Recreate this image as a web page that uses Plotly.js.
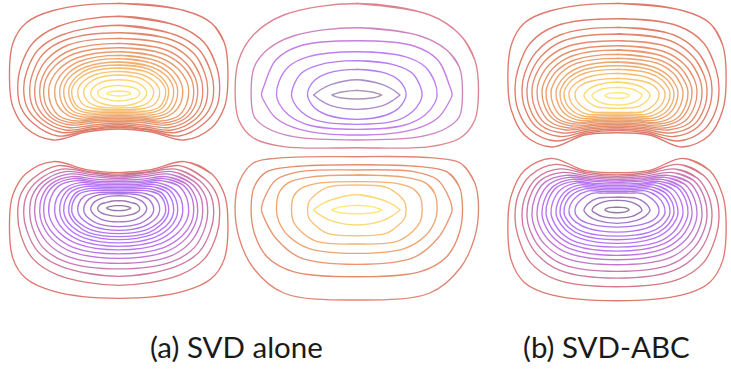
<!DOCTYPE html>
<html><head><meta charset="utf-8">
<script src="https://cdn.plot.ly/plotly-3.0.1.min.js"></script>
<style>html,body{margin:0;padding:0;background:#fff}#c{width:731px;height:387px}</style>
</head><body><div id="c"></div>
<script>
// Each contour row:
// half-width, y at widest, top y at 0/.6/.85/.97 of half-width, bottom y at .97/.85/.6/0 of half-width
var stations = [0, 0.6, 0.85, 0.97];
var captions = ["(a) SVD alone", "(b) SVD-ABC"];
var captionX = [236, 606];

var aTop = [
[109,86,3.3,10.5,23,43,107,128,140,129],
[101,88,16.3,26.5,43,67,107,123,136,127.5],
[95,88,25.3,35,50,72,106,121,132.5,126],
[89,89,32.7,40,54,74,106,120,130,124.5],
[84,89,38.3,45,59,76,106,119,127.5,123],
[79,90,43.3,50,63,78,105,118,125,121.5],
[75,90,47.7,54,66,79,105,117,123,120],
[70,90,51.7,58,69,81,104,116,121,118.5],
[64,90,55.3,61,71,82,103,113,119,117],
[59,91,58.7,64,73,83,102,112,117,115.5],
[55,91,62,67,75,84,101,110.5,115,114],
[50,91,65,69,77,85,100,109,113,112.5],
[47,91,68,72,79,86,99.5,107.5,111,111],
[41,92,71.3,75,81,87,98.5,105,108.5,109.5],
[35,92,75,78,83,88,97,102.5,106.5,108],
[28,93,79.7,82,86,90,96,100,103.5,106],
[21,93,85.3,87,89,91,95,97.5,99,101],
[12,93.5,91,91.5,92.5,93,94,94.7,95.3,96]];
var aTopDent = [132,130,129,127,125,122.5,120.5,119,117.3,115.8,114.2,112.6,111,109.3,107.7,105.5,100.6,95.9];

var aBottom = [
[109,215.6,172.6,161.6,173.6,194.6,258.6,278.6,291.1,298.3],
[101,213.6,174.1,165.6,178.6,194.6,234.6,258.6,275.1,285.3],
[95,213.6,175.6,169.1,180.6,195.6,229.6,251.6,266.6,276.3],
[89,212.6,177.1,171.6,181.6,195.6,227.6,247.6,261.6,268.9],
[84,212.6,178.6,174.1,182.6,195.6,225.6,242.6,256.6,263.3],
[79,211.6,180.1,176.6,183.6,196.6,223.6,238.6,251.6,258.3],
[75,211.6,181.6,178.6,184.6,196.6,222.6,235.6,247.6,253.9],
[70,211.6,183.1,180.6,185.6,197.6,220.6,232.6,243.6,249.9],
[64,211.6,184.6,182.6,188.6,198.6,219.6,230.6,240.6,246.3],
[59,210.6,186.1,184.6,189.6,199.6,218.6,228.6,237.6,242.9],
[55,210.6,187.6,186.6,191.1,200.6,217.6,226.6,234.6,239.6],
[50,210.6,189.1,188.6,192.6,201.6,216.6,224.6,232.6,236.6],
[47,210.6,190.6,190.6,194.1,202.1,215.6,222.6,229.6,233.6],
[41,209.6,192.1,193.1,196.6,203.1,214.6,220.6,226.6,230.3],
[35,209.6,193.6,195.1,199.1,204.6,213.6,218.6,223.6,226.6],
[28,208.6,195.6,198.1,201.6,205.6,211.6,215.6,219.6,221.9],
[21,208.6,200.6,202.6,204.1,206.6,210.6,212.6,214.6,216.3],
[12,208.1,205.6,206.3,206.9,207.6,208.6,209.1,210.1,210.6]];
var aBottomDent = [169.6,171.6,172.6,174.6,176.6,179.1,181.1,182.6,184.3,185.8,187.4,189,190.6,192.3,193.9,196.1,201,205.7];

var bTop = [
[109,86,3.3,10.5,23,45,110,135,147,132.7],
[102,88,18.7,26,43,69,110,130,141,130.5],
[95,89,27.3,35,52,73,108,127,136.5,129],
[90,89,34,41,57,76,108,125,133,127.5],
[85,90,40.7,47,61,78,107,123,130,126],
[80,91,45.7,52,65,80,106,121,128,124.5],
[75,91,50,56,68,82,105,119,126,123],
[71,92,54.3,60,71,84,105,118,124,121.5],
[66,92,58.3,63,73,85,104,116,122.5,120],
[61,92,62,67,76,86,103,114,120.5,118.5],
[57,93,65.7,70,78,87,103,112.5,118.5,117],
[53,93,69.3,73,80,88,102,110.5,116.5,115.5],
[48,93,73.3,77,83,89,101,108.5,114.5,114],
[42,94,78.3,81,85,90,100,106,112,112.5],
[33,95,82,85,89,93,98,102.5,107,108.3],
[25,95,87.3,89,92,94,97,100,103,105],
[12,95.5,92.7,93.2,94.3,95,96.2,97,97.8,98.3]];
var bTopDent = [135,133,131,129,127.3,125.5,124,122,120.5,119,117.3,115.7,114,112.3,108,104.7,98.1];

var bBottom = [
[109,219.4,172.7,158.4,170.4,195.4,260.4,282.4,294.9,300.7],
[102,217.4,174.9,164.4,175.4,195.4,236.4,262.4,279.4,286.7],
[95,216.4,176.4,168.9,178.4,197.4,232.4,253.4,270.4,278.1],
[90,216.4,177.9,172.4,180.4,197.4,229.4,248.4,264.4,271.4],
[85,215.4,179.4,175.4,182.4,198.4,227.4,244.4,258.4,264.7],
[80,214.4,180.9,177.4,184.4,199.4,225.4,240.4,253.4,259.7],
[75,214.4,182.4,179.4,186.4,200.4,223.4,237.4,249.4,255.4],
[71,213.4,183.9,181.4,187.4,200.4,221.4,234.4,245.4,251.1],
[66,213.4,185.4,182.9,189.4,201.4,220.4,232.4,242.4,247.1],
[61,213.4,186.9,184.9,191.4,202.4,219.4,229.4,238.4,243.4],
[57,212.4,188.4,186.9,192.9,202.4,218.4,227.4,235.4,239.7],
[53,212.4,189.9,188.9,194.9,203.4,217.4,225.4,232.4,236.1],
[48,212.4,191.4,190.9,196.9,204.4,216.4,222.4,228.4,232.1],
[42,211.4,192.9,193.4,199.4,205.4,215.4,220.4,224.4,227.1],
[33,210.4,197.1,198.4,202.9,207.4,212.4,216.4,220.4,223.4],
[25,210.4,200.4,202.4,205.4,208.4,211.4,213.4,216.4,218.1],
[12,209.9,207.1,207.6,208.4,209.2,210.4,211.1,212.2,212.7]];
var bBottomDent = [170.4,172.4,174.4,176.4,178.1,179.9,181.4,183.4,184.9,186.4,188.1,189.7,191.4,193.1,197.4,200.7,207.3];

var cTop = [
[121.7,90,3.5,15,35,60,120,138,146.7,147.7],
[105.7,93,27.7,36,50,67,116.7,128,136.7,140],
[95.3,95,40.7,46,60,85,101.7,118,129.3,135],
[80.3,95,51.7,56.7,66.7,81.7,103.3,115,125,129.3],
[65.3,95,60.7,65.3,73.3,86,101.7,111.7,120.7,124.3],
[49.3,95,69.3,73.3,80,88,100,108.3,115,119.3],
[43.2,95,79.7,84.7,90,94,96,100,105.7,109.3],
[25,95,90.3,92,93.7,94.7,95.3,96.7,98,99]];

var cBottom = [
[121.7,207,156.7,157.7,163,183,236.7,268,293,300],
[105.7,208,164.7,166.7,171.7,186.7,233,256.7,271.7,276.7],
[95.3,210,170,171.7,180,198.3,218.3,238.3,257.3,264.3],
[80.3,210,175,177.3,182.7,193.3,221.7,236,248.3,253.3],
[65.3,210,181.7,183.3,188.3,196.7,221.7,231.7,241.7,244],
[49.3,210,185,187.3,195,201.7,218.3,225,233.3,235.7],
[43.2,210,194.7,200,205,208.7,211.3,215,220.7,225],
[25,210,205.3,206.7,208.3,209.3,210.3,211.7,213,213.7]];

var centers = [118.7, 118.7, 356.8, 356.8, 617, 617];
var warm18 = ["#d96a5c","#da6e5c","#dc745c","#de7a5d","#e0805e","#e2865f","#e48c60","#e69261","#e89862","#eb9f62","#eea662","#f1ae62","#f4b662","#f7bf63","#f9c964","#fbd365","#fddc66","#ffe468"];
var violet18 = ["#d96a5f","#cf6a78","#c96a92","#c36aaa","#be68c0","#b968d2","#b566e0","#b266ea","#b066f2","#ae66f5","#ac66f5","#aa66f2","#a866ec","#a466e2","#9f66d2","#9868bc","#8f68a8","#8a6a98"];
var warm8 = ["#db7a66","#e0805e","#e68c60","#eb9a62","#f0a864","#f6bd66","#fbd566","#ffe668"];
var violet8 = ["#dc7585","#c878b8","#c070e0","#b870f5","#b06ff0","#a870f0","#a07fc4","#a38aaa"];

// r: a contour row; dentY: its y at .3 of half-width on the dented side (top or bottom), if any
function loop(cx, r, dentY, dentOnTop) {
  var W = r[0], yW = r[1], i;
  function top(sign) {
    var out = [];
    for (i = 1; i < 4; i++) out.push([cx + sign * W * stations[i], r[2 + i]]);
    if (dentY !== undefined && dentOnTop) out.unshift([cx + sign * W * 0.3, dentY]);
    return out;
  }
  function bottom(sign) {
    var out = [];
    for (i = 3; i >= 1; i--) out.push([cx + sign * W * stations[i], r[9 - i]]);
    if (dentY !== undefined && !dentOnTop) out.push([cx + sign * W * 0.3, dentY]);
    return out;
  }
  var pts = [[cx, r[2]]]
    .concat(top(1))
    .concat([[cx + W, yW]])
    .concat(bottom(1))
    .concat([[cx, r[9]]])
    .concat(bottom(-1).reverse())
    .concat([[cx - W, yW]])
    .concat(top(-1).reverse());
  // wrap a little past the start so the spline has no seam
  pts = pts.concat(pts.slice(0, 4));
  return {x: pts.map(function (p) { return p[0]; }), y: pts.map(function (p) { return p[1]; })};
}
var traces = [];
function addPanel(rows, cx, cols, dent, dentOnTop) {
  rows.forEach(function (r, i) {
    var p = loop(cx, r, dent ? dent[i] : undefined, dentOnTop);
    traces.push({type: "scatter", mode: "lines", x: p.x, y: p.y, hoverinfo: "skip", showlegend: false,
      opacity: 0.9,
      line: {color: cols[Math.min(i, cols.length - 1)], width: 1.35, shape: "spline", smoothing: 1}});
  });
}
function without14(c, i) { return i !== 14; }
addPanel(aTop, centers[0], warm18, aTopDent, false);
addPanel(aBottom, centers[1], violet18, aBottomDent, true);
addPanel(cTop, centers[2], violet8);
addPanel(cBottom, centers[3], warm8);
addPanel(bTop, centers[4], warm18.filter(without14), bTopDent, false);
addPanel(bBottom, centers[5], violet18.filter(without14), bBottomDent, true);

var layout = {
  width: 731, height: 387, margin: {l: 0, r: 0, t: 0, b: 0},
  paper_bgcolor: "#fff", plot_bgcolor: "#fff", showlegend: false,
  xaxis: {range: [0, 731], visible: false, fixedrange: true},
  yaxis: {range: [387, 0], visible: false, fixedrange: true},
  annotations: captions.map(function (t, i) {
    return {text: t, x: captionX[i], y: 346, xref: "x", yref: "y", showarrow: false,
      xanchor: "center", yanchor: "middle", font: {family: "Lato, Carlito, sans-serif", size: 29.5, color: "#1a1a1a"}};
  })
};
Plotly.newPlot("c", traces, layout, {displayModeBar: false, staticPlot: true});
</script></body></html>
